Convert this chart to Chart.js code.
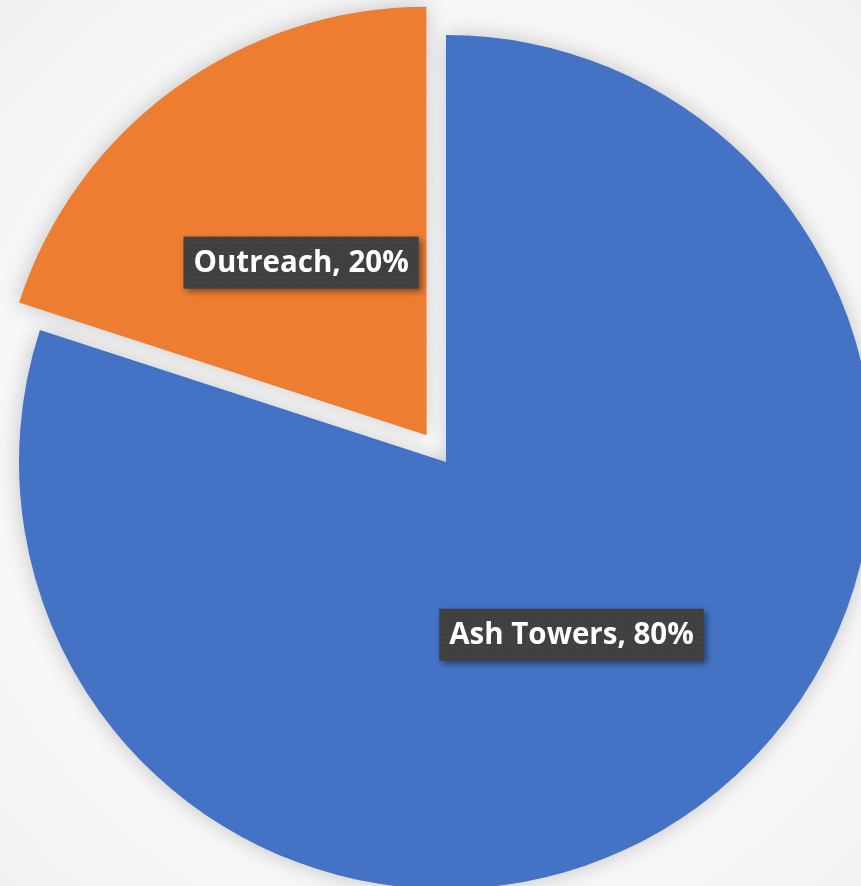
<!DOCTYPE html>
<html>
<head>
<meta charset="utf-8">
<script src="https://cdn.jsdelivr.net/npm/chart.js@4/dist/chart.umd.min.js"></script>
<style>
  html, body { margin: 0; padding: 0; }
  body {
    width: 861px; height: 886px; overflow: hidden;
    background: radial-gradient(circle at 52% 52%, #ffffff 0%, #fbfbfb 55%, #f0f0f0 100%);
  }
  canvas { display: block; }
</style>
</head>
<body>
<canvas id="pieChart" width="861" height="886"></canvas>
<script>
var labels = ["Ash Towers", "Outreach"];
var shares = [80, 20];
var colors = ["#4472C4", "#ED7D31"];
var explode = [0, 33]; // px the slice is pulled out

// dotted dark fill for the label boxes
function boxPattern(ctx) {
  var c = document.createElement('canvas');
  c.width = 5; c.height = 5;
  var p = c.getContext('2d');
  p.fillStyle = '#404040';
  p.fillRect(0, 0, 5, 5);
  p.fillStyle = '#4e4e4e';
  p.fillRect(2, 2, 1, 1);
  return ctx.createPattern(c, 'repeat');
}

var pieShadow = {
  id: 'pieShadow',
  beforeDatasetsDraw: function(chart) {
    var ctx = chart.ctx;
    ctx.save();
    ctx.shadowColor = 'rgba(0,0,0,0.22)';
    ctx.shadowBlur = 22;
  },
  afterDatasetsDraw: function(chart) {
    chart.ctx.restore();
  }
};

var sliceLabels = {
  id: 'sliceLabels',
  afterDatasetsDraw: function(chart) {
    var ctx = chart.ctx;
    var arcs = chart.getDatasetMeta(0).data;
    var fill = boxPattern(ctx);
    ctx.save();
    ctx.font = 'bold 29.5px "Open Sans"';
    ctx.textAlign = 'center';
    ctx.textBaseline = 'middle';
    arcs.forEach(function(arc, i) {
      var p = arc.getProps(['x', 'y', 'startAngle', 'endAngle', 'outerRadius']);
      var mid = (p.startAngle + p.endAngle) / 2;
      var d = explode[i] + p.outerRadius / 2;
      var cx = p.x + Math.cos(mid) * d;
      var cy = p.y + Math.sin(mid) * d;
      var text = labels[i] + ', ' + shares[i] + '%';
      var w = ctx.measureText(text).width + 20;
      var h = 52;

      ctx.save();
      ctx.shadowColor = 'rgba(0,0,0,0.45)';
      ctx.shadowBlur = 6;
      ctx.shadowOffsetX = 3;
      ctx.shadowOffsetY = 3;
      ctx.fillStyle = fill;
      ctx.fillRect(cx - w / 2, cy - h / 2, w, h);
      ctx.restore();

      ctx.fillStyle = '#ffffff';
      ctx.fillText(text, cx, cy + 1);
    });
    ctx.restore();
  }
};

var ctr = document.getElementById('pieChart');

var myPieChart = new Chart(ctr, {
  type: 'pie',
  data: {
    labels: labels,
    datasets: [{
      data: shares,
      backgroundColor: colors,
      borderWidth: 0,
      // Chart.js arcs move offset/4 px when drawn
      offset: explode.map(function(v) { return v * 4; }),
      clip: false
    }]
  },
  options: {
    responsive: false,
    devicePixelRatio: 1,
    animation: false,
    radius: 427,
    layout: { padding: { left: 31, top: 38 } },
    plugins: {
      legend: { display: false },
      tooltip: { enabled: false }
    }
  },
  plugins: [pieShadow, sliceLabels]
});
</script>
</body>
</html>
